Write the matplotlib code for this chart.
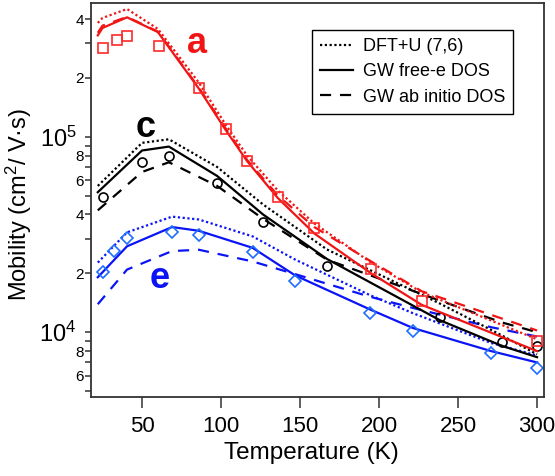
import matplotlib
matplotlib.use("Agg")
import matplotlib.pyplot as plt
from matplotlib.lines import Line2D

plt.rcParams['font.family'] = ['Liberation Sans', 'DejaVu Sans']
plt.rcParams['mathtext.fontset'] = 'custom'
plt.rcParams['mathtext.rm'] = 'Liberation Sans'
plt.rcParams['mathtext.it'] = 'Liberation Sans:italic'
plt.rcParams['mathtext.bf'] = 'Liberation Sans:bold'
plt.rcParams['mathtext.default'] = 'regular'

# ---------------- data ----------------
# sample a (red)
a_T_exp = [25, 34, 40.5, 61, 86, 103, 116.5, 136, 159, 195, 227, 300]
a_exp = [2.85e5, 3.12e5, 3.27e5, 2.91e5, 1.78e5, 1.09e5, 7.55e4, 4.89e4, 3.4e4, 2.1e4, 1.44e4, 9.0e3]
a_T_model = [22, 25, 40.5, 60, 86, 103, 116.5, 136, 159, 195, 227, 300]
a_dft = [3.82e5, 4.05e5, 4.5e5, 3.56e5, 1.89e5, 1.15e5, 8.0e4, 5.3e4, 3.6e4, 2.27e4, 1.6e4, 9.2e3]
a_gw = [3.3e5, 3.6e5, 4.08e5, 3.43e5, 1.76e5, 1.08e5, 7.5e4, 4.85e4, 3.2e4, 2.0e4, 1.38e4, 8.0e3]
a_ab = [3.4e5, 3.7e5, 4.1e5, 3.45e5, 1.78e5, 1.1e5, 7.6e4, 5.0e4, 3.45e4, 2.3e4, 1.62e4, 1.02e4]

# sample c (black)
c_T_exp = [25, 50, 67, 97.5, 126.6, 167, 238.6, 278, 300]
c_exp = [4.89e4, 7.45e4, 8.0e4, 5.82e4, 3.64e4, 2.17e4, 1.19e4, 8.9e3, 8.5e3]
c_T_model = [22, 50, 67, 97.5, 126.6, 167, 238.6, 278, 300]
c_dft = [5.6e4, 9.3e4, 9.7e4, 7.0e4, 4.5e4, 2.65e4, 1.4e4, 9.6e3, 7.7e3]
c_gw = [5.2e4, 8.5e4, 8.9e4, 6.3e4, 4.0e4, 2.37e4, 1.15e4, 8.5e3, 7.45e3]
c_ab = [4.2e4, 6.6e4, 7.4e4, 5.6e4, 3.8e4, 2.35e4, 1.45e4, 1.12e4, 1.0e4]

# sample e (blue)
e_T_exp = [25.3, 32, 40.5, 69, 86, 120, 147, 194, 221.5, 271, 300]
e_exp = [2.02e4, 2.59e4, 3.02e4, 3.27e4, 3.13e4, 2.56e4, 1.82e4, 1.26e4, 1.01e4, 7.8e3, 6.55e3]
e_T_model = [22, 40.5, 69, 86, 120, 147, 194, 221.5, 271, 300]
e_dft = [2.27e4, 3.24e4, 3.9e4, 3.77e4, 3.09e4, 2.35e4, 1.55e4, 1.25e4, 8.8e3, 7.6e3]
e_gw = [1.91e4, 2.75e4, 3.45e4, 3.3e4, 2.7e4, 1.95e4, 1.31e4, 1.05e4, 8.0e3, 7.0e3]
e_ab = [1.39e4, 2.09e4, 2.6e4, 2.64e4, 2.3e4, 1.98e4, 1.52e4, 1.33e4, 1.06e4, 9.5e3]

x_ticks = [50, 100, 150, 200, 250, 300]
y_ticks = [6e3, 8e3, 1e4, 2e4, 4e4, 6e4, 8e4, 1e5, 2e5, 4e5]
y_tick_labels = ['6', '8', '$10^{4}$', '2', '4', '6', '8', '$10^{5}$', '2', '4']
y_minor = [5e3, 7e3, 9e3, 3e4, 5e4, 7e4, 9e4, 3e5]
legend_labels = ['DFT+U (7,6)', 'GW free-e DOS', 'GW ab initio DOS']

# ---------------- styles ----------------
RED = '#f01414'
RED_M = '#ff2a2a'
BLUE = '#0a14f5'
BLUE_M = '#1e6eff'
BLACK = '#000000'
LW = 1.6
DOT = (0, (1, 1.15))
DASH = (0, (5, 4))

fig = plt.figure(figsize=(5.55, 4.76), dpi=100)
ax = fig.add_axes([91/555, 1-397/476, (544-91)/555, (397-3)/476])
ax.set_yscale('log')

def draw(Tm, dft, gw, ab, Te, ex, col, mcol, marker, ms):
    ax.plot(Tm, dft, color=col, lw=LW, linestyle=DOT)
    ax.plot(Tm, ab, color=col, lw=LW, linestyle=DASH)
    ax.plot(Tm, gw, color=col, lw=LW)
    ax.plot(Te, ex, linestyle='none', marker=marker, ms=ms, mfc='none',
            mec=mcol, mew=1.2)

draw(e_T_model, e_dft, e_gw, e_ab, e_T_exp, e_exp, BLUE, BLUE_M, 'D', 6.0)
draw(c_T_model, c_dft, c_gw, c_ab, c_T_exp, c_exp, BLACK, BLACK, 'o', 6.5)
draw(a_T_model, a_dft, a_gw, a_ab, a_T_exp, a_exp, RED, RED_M, 's', 6.5)

ax.set_xlim(17.7, 304.4)
ax.set_ylim(4.66e3, 4.83e5)

for s in ax.spines.values():
    s.set_linewidth(1.3)
    s.set_color('#333333')

ax.set_xticks(x_ticks)
ax.set_xticklabels([str(v) for v in x_ticks])
ax.tick_params(axis='x', which='major', direction='out', length=8, width=1.1,
               labelsize=16, pad=5.5, color='#333333')
ax.tick_params(axis='x', which='minor', bottom=False)

ax.set_yticks(y_ticks)
ax.set_yticklabels(y_tick_labels)
ax.set_yticks(y_minor, minor=True)
ax.yaxis.set_minor_formatter(matplotlib.ticker.NullFormatter())
ax.tick_params(axis='y', which='major', direction='out', length=4.3, width=1.1,
               labelsize=11, pad=1.0, color='#333333')
ax.tick_params(axis='y', which='minor', direction='out', length=4.3, width=1.1,
               color='#333333')
ticks = ax.yaxis.get_major_ticks()
for t, lab in zip(ticks, y_tick_labels):
    if lab.startswith('$'):
        t.tick1line.set_markersize(7.5)
        t.label1.set_fontsize(17)
        t.set_pad(6.0)

ax.set_xlabel('Temperature (K)', fontsize=17.5)
ax.xaxis.set_label_coords(0.486, -0.114)
ax.set_ylabel('Mobility (cm$^{2}$/ V·s)', fontsize=17)
ax.yaxis.set_label_coords(-0.125, 0.49)

ax.text(0.212, 0.873, 'a', transform=ax.transAxes, color=RED, fontsize=26,
        fontweight='bold', ha='left', va='baseline')
ax.text(0.099, 0.66, 'c', transform=ax.transAxes, color=BLACK, fontsize=26,
        fontweight='bold', ha='left', va='baseline')
ax.text(0.130, 0.277, 'e', transform=ax.transAxes, color=BLUE, fontsize=26,
        fontweight='bold', ha='left', va='baseline')

handles = [Line2D([], [], color='k', lw=LW, linestyle=DOT),
           Line2D([], [], color='k', lw=LW),
           Line2D([], [], color='k', lw=LW, linestyle=DASH)]
leg = ax.legend(handles, legend_labels, loc='upper right',
                bbox_to_anchor=(0.932, 0.931), borderaxespad=0, fontsize=13,
                handlelength=1.8, handletextpad=0.55, labelspacing=0.45,
                borderpad=0.45, fancybox=False, framealpha=1, edgecolor='black')
leg.get_frame().set_linewidth(1.0)

fig.savefig('out.png', dpi=100)
